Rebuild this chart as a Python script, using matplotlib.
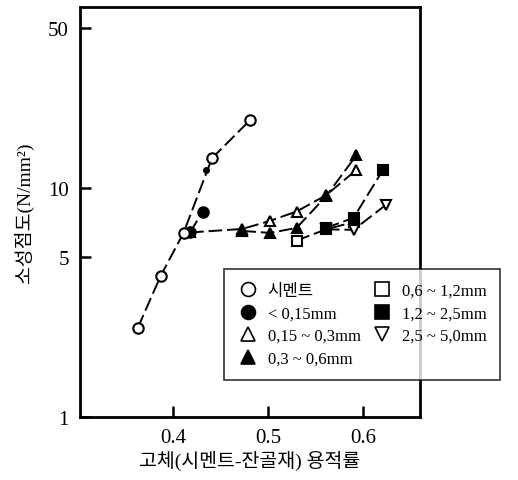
import matplotlib
matplotlib.use("Agg")
import matplotlib.pyplot as plt
from matplotlib.ticker import FixedLocator, NullLocator
from matplotlib.lines import Line2D

plt.rcParams['font.family'] = ['Liberation Serif', 'Noto Sans CJK KR', 'DejaVu Sans']

# Data
cement_x = [0.363, 0.387, 0.411, 0.441, 0.481]
cement_y = [2.46, 4.14, 6.37, 13.5, 19.8]

f015_x = [0.418, 0.431]
f015_y = [6.4, 7.9]
f015_dot_x = [0.435]
f015_dot_y = [12.0]

a015_03_x = [0.418, 0.473, 0.502, 0.530, 0.561, 0.593]
a015_03_y = [6.4, 6.63, 7.19, 7.9, 9.3, 12.0]

a03_06_x = [0.473, 0.502, 0.530, 0.561, 0.593]
a03_06_y = [6.5, 6.37, 6.7, 9.2, 13.9]

a06_12_x = [0.530, 0.561, 0.590]
a06_12_y = [5.9, 6.6, 7.1]

a12_25_x = [0.561, 0.590, 0.621]
a12_25_y = [6.7, 7.41, 12.0]

a25_50_x = [0.561, 0.590, 0.624]
a25_50_y = [6.6, 6.57, 8.44]

labels = ['시멘트', '< 0,15mm', '0,15 ~ 0,3mm', '0,3 ~ 0,6mm',
          '0,6 ~ 1,2mm', '1,2 ~ 2,5mm', '2,5 ~ 5,0mm']

xticks = [0.4, 0.5, 0.6]
xtick_labels = ['0.4', '0.5', '0.6']
yticks = [1, 5, 10, 50]
ytick_labels = ['1', '5', '10', '50']

fig = plt.figure(figsize=(5.18, 4.81), dpi=100)
ax = fig.add_axes([80/518, 1-418/481, 340/518, 410/481])
ax.set_yscale('log')

ls = (0, (7, 2.5))
lw = 1.4
ms = 7.5

def series(x, y, marker, filled, z):
    ax.plot(x, y, linestyle=ls, color='black', lw=lw, zorder=z-1)
    ax.plot(x, y, linestyle='none', marker=marker, ms=ms,
            mfc='black' if filled else 'white', mec='black', mew=1.5,
            zorder=z)

series(a06_12_x, a06_12_y, 's', False, 3)
series(a12_25_x, a12_25_y, 's', True, 4)
series(a25_50_x, a25_50_y, 'v', False, 3)
series(a015_03_x, a015_03_y, '^', False, 3)
series(a03_06_x, a03_06_y, '^', True, 4)
series(f015_x, f015_y, 'o', True, 3)
ax.plot(f015_dot_x, f015_dot_y, linestyle='none', marker='o', ms=4,
        color='black', zorder=3)
series(cement_x, cement_y, 'o', False, 5)

ax.set_xlim(0.302, 0.66)
ax.set_ylim(1, 61.8)
ax.xaxis.set_major_locator(FixedLocator(xticks))
ax.set_xticklabels(xtick_labels)
ax.yaxis.set_major_locator(FixedLocator(yticks))
ax.yaxis.set_minor_locator(NullLocator())
ax.set_yticklabels(ytick_labels)
ax.tick_params(direction='in', length=8, width=1.8, labelsize=15, pad=8)
for s in ax.spines.values():
    s.set_linewidth(2)

ax.set_xlabel('고체(시멘트-잔골재) 용적률', fontsize=14, labelpad=2)
ax.set_ylabel('소성점도(N/mm²)', fontsize=14, labelpad=10)

mk = ['o', 'o', '^', '^', 's', 's', 'v']
fl = [False, True, False, True, False, True, False]
hs = [Line2D([], [], linestyle='none', marker=mk[i], ms=10,
             mfc='black' if fl[i] else 'white', mec='black', mew=1.2)
      for i in range(7)]
leg = fig.legend(hs, labels, loc='upper left',
                 bbox_to_anchor=(216/518, 1-262/481), ncol=2,
                 frameon=True, fancybox=False, fontsize=12,
                 handletextpad=0.6, columnspacing=0.7, labelspacing=0.4,
                 borderpad=0.8, handlelength=1.2)
leg.get_frame().set_edgecolor('black')
leg.get_frame().set_linewidth(1.2)
leg.set_zorder(10)

fig.savefig('out.png', dpi=100)
